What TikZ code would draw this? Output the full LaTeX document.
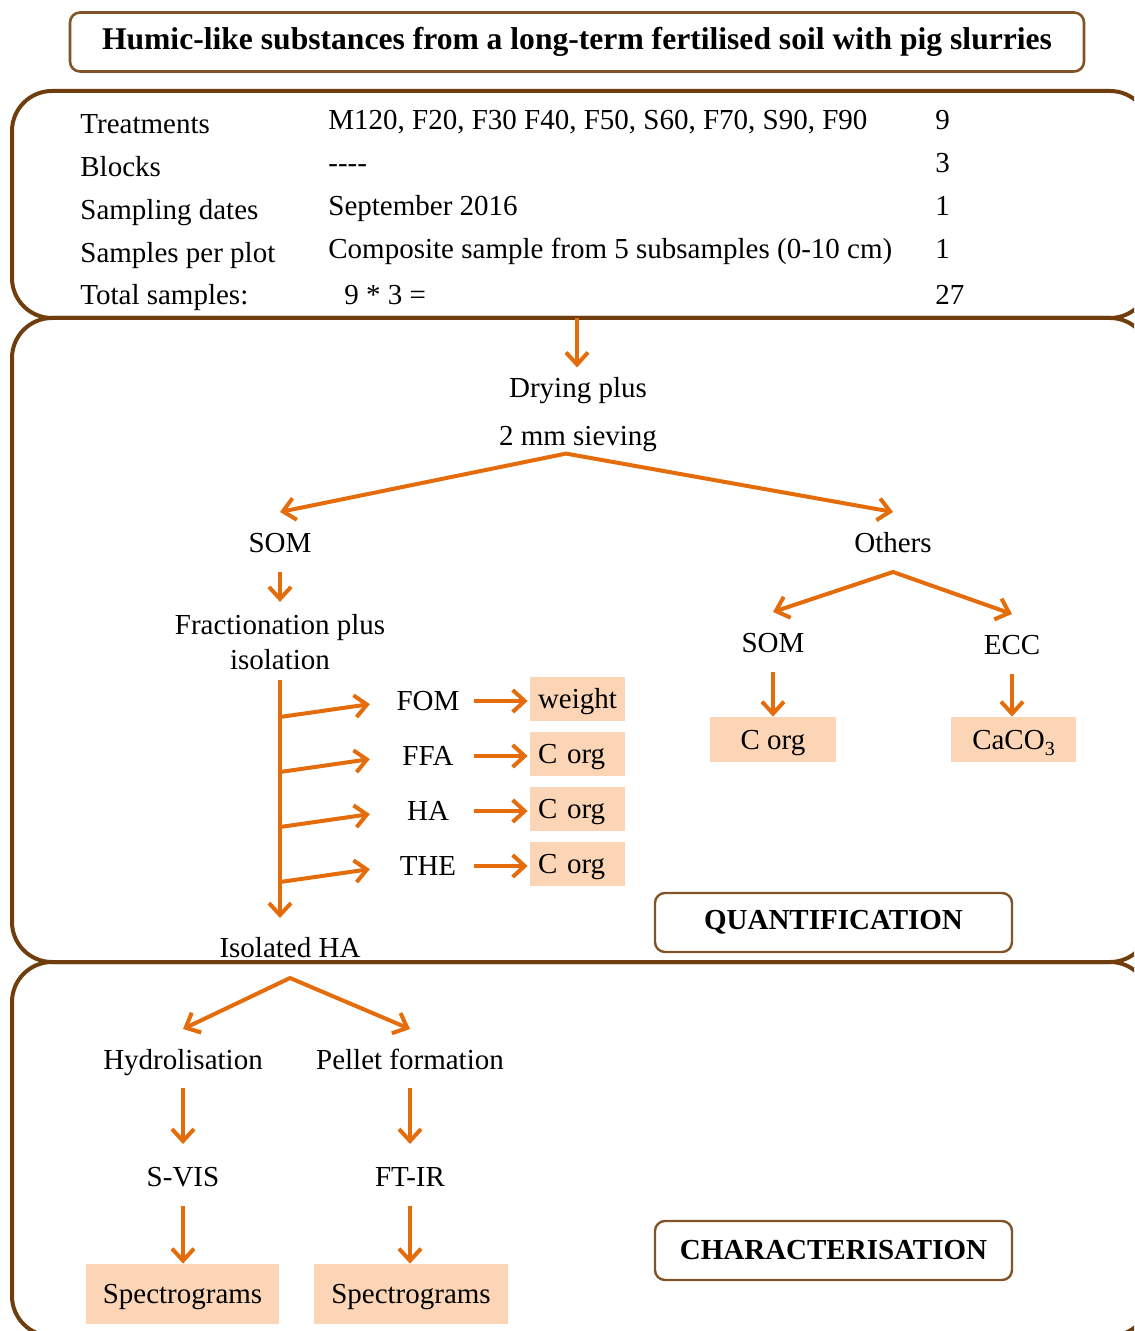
\documentclass[tikz,border=0pt]{standalone}
\usepackage{fontspec}
\setmainfont{Liberation Serif}
\usetikzlibrary{arrows.meta, positioning, calc}
\definecolor{flowOrange}{RGB}{228,108,10}
\definecolor{panelBrown}{RGB}{112,62,14}
\definecolor{boxBrown}{RGB}{128,84,40}
\definecolor{peach}{RGB}{251,213,181}
\newcommand{\dfont}{\fontsize{14.5}{17.4}\selectfont}

\begin{document}
\begin{tikzpicture}[x=0.5pt, y=-0.5pt,
  >={Straight Barb[length=6pt,width=11pt]},
  panel/.style={draw=panelBrown, line width=2pt, rounded corners=20pt},
  txt/.style={font=\dfont, inner sep=2pt, text height=9.6pt, text depth=0pt},
  twoline/.style={font=\fontsize{14.5}{#1}\selectfont, align=center, inner sep=2pt},
  cell/.style={font=\dfont, anchor=west, inner sep=0pt, text height=9.6pt, text depth=0pt},
  res/.style={fill=peach, font=\dfont, inner sep=0pt, minimum height=22pt, text height=9.6pt, text depth=0pt},
  frame/.style={draw=boxBrown, line width=1.2pt, rounded corners=5pt, font=\dfont\bfseries,
                minimum width=178.5pt, minimum height=29.5pt},
  arrow/.style={->, draw=flowOrange, line width=2pt},
  split/.style={<->, draw=flowOrange, line width=2pt}
]
\useasboundingbox (0,0) rectangle (1134,1331);
\clip (0,0) rectangle (1134,1331);

\node[draw=boxBrown, line width=1.3pt, rounded corners=5pt, minimum width=507pt, minimum height=29.5pt,
      font=\fontsize{15.8}{19}\selectfont\bfseries] (title) at (577,42) {Humic-like substances from a long-term fertilised soil with pig slurries};

\draw[panel] (12,91) rectangle (1150,318);
\draw[panel] (12,318) rectangle (1150,962);
\draw[panel] (12,962) rectangle (1150,1336);

\foreach \lab/\val/\num [count=\i] in {Treatments/{M120, F20, F30 F40, F50, S60, F70, S90, F90}/9,
    Blocks/{-{}-{}-{}-}/3, Sampling dates/{September 2016}/1,
    Samples per plot/{Composite sample from 5 subsamples (0-10 cm)}/1} {
  \node[cell] (lab\i) at (80,81+43*\i) {\lab};
  \node[cell] (val\i) at (328,77+43*\i) {\val};
  \node[cell] (num\i) at (935,77+43*\i) {\num};
}
\node[cell] (lab5) at (80,295) {Total samples:};
\node[cell] (val5) at (344,295) {9 * 3 =};
\node[cell] (num5) at (935,295) {27};

\coordinate (p1out) at (577,318);
\node[twoline=24] (dry) at (578,415) {Drying plus\\2 mm sieving};
\draw[arrow, shorten >=3pt] (p1out) -- (p1out |- dry.north);

\node[txt] (som1) at (280,543) {SOM};
\node[txt] (oth) at (893,543) {Others};
\draw[split] ([yshift=8.5pt]som1.north) -- ([xshift=-6pt,yshift=1.5pt]dry.south) -- ([yshift=8.5pt]oth.north);

\node[twoline=17.5] (fract) at (280,642) {Fractionation plus\\isolation};
\draw[arrow, shorten <=7.5pt, shorten >=4pt] (som1.south) -- (fract.north);

\node[txt] (iso) at (290,948) {Isolated HA};
\draw[arrow, shorten <=3pt, shorten >=8pt] (fract.south) -- (fract.south |- iso.north);

\foreach \n/\t/\r/\y in {fom/FOM/weight/701, ffa/FFA/C org/756, ha/HA/C org/811, the/THE/C org/866} {
  \node[txt, minimum width=36pt] (\n) at (428,\y) {\t};
  \node[res, minimum width=47.5pt, text width=39.5pt, align=left] (\n box) at (577.5,\y-2) {\r};
  \draw[arrow, shorten >=11pt] ($(fract.south |- \n.west)+(0,16)$) -- (\n.west);
  \draw[arrow, shorten <=5pt, shorten >=1pt] (\n.east) -- (\n.east -| \n box.west);
}

\node[txt] (som2) at (773,643) {SOM};
\node[txt] (ecc) at (1012,645) {ECC};
\draw[split] ([yshift=8.5pt]som2.north) -- ([yshift=-7.5pt]oth.south) -- ([yshift=8.5pt]ecc.north);
\node[res, minimum width=63pt, minimum height=22.5pt] (corg) at (773,739.5) {C org};
\node[res, minimum width=62.5pt, minimum height=22.5pt] (caco) at (1013.5,739.5) {CaCO\raisebox{-0.45ex}{\fontsize{10}{12}\selectfont 3}};
\draw[arrow, shorten <=7.5pt] (som2.south) -- (som2.south |- corg.north);
\draw[arrow, shorten <=7.5pt] (ecc.south) -- (ecc.south |- caco.north);

\node[frame] (quant) at (833.5,922.5) {QUANTIFICATION};

\node[txt] (hyd) at (183,1060) {Hydrolisation};
\node[txt] (pel) at (410,1060) {Pellet formation};
\draw[split] ([yshift=8.5pt]hyd.north) -- ([yshift=-8pt]iso.south) -- ([yshift=8.5pt]pel.north);
\node[txt] (svis) at (183,1177) {S-VIS};
\node[txt] (ftir) at (410,1177) {FT-IR};
\draw[arrow, shorten <=7pt, shorten >=9.5pt] (hyd) -- (svis);
\draw[arrow, shorten <=7pt, shorten >=9.5pt] (pel) -- (ftir);
\node[res, minimum width=96.5pt, minimum height=30pt] (spec1) at (182.5,1294) {Spectrograms};
\node[res, minimum width=97pt, minimum height=30pt] (spec2) at (411,1294) {Spectrograms};
\draw[arrow, shorten <=7.5pt] (svis.south) -- (svis.south |- spec1.north);
\draw[arrow, shorten <=7.5pt] (ftir.south) -- (ftir.south |- spec2.north);

\node[frame] (charact) at (833.5,1250.5) {CHARACTERISATION};
\end{tikzpicture}
\end{document}
